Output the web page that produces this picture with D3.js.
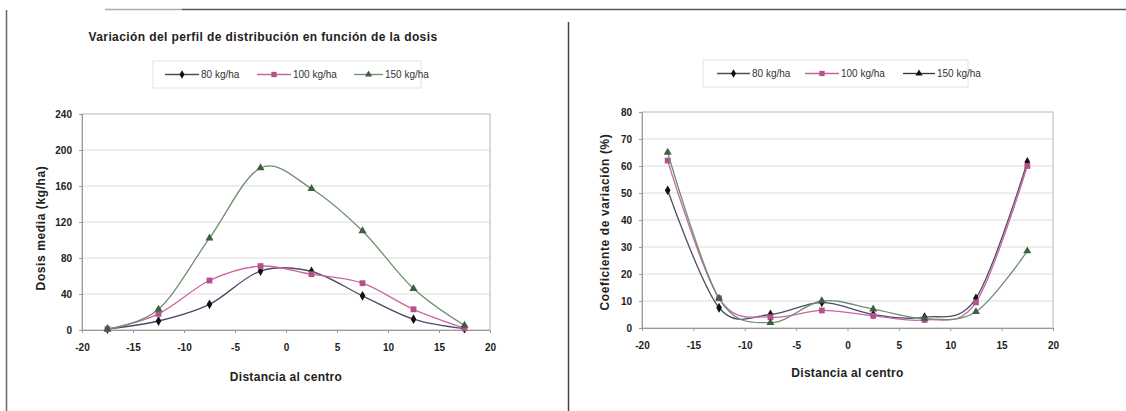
<!DOCTYPE html>
<html>
<head>
<meta charset="utf-8">
<script src="https://cdn.jsdelivr.net/npm/d3@7/dist/d3.min.js"></script>
<style>
  html, body { margin: 0; padding: 0; background: #fff; }
  svg { display: block; font-family: "Liberation Sans", Arial, sans-serif; }
</style>
</head>
<body>
<svg id="fig" width="1126" height="411"></svg>
<script>
// Distance from the centre of the spreader (m)
const distances = [-17.5, -12.5, -7.5, -2.5, 2.5, 7.5, 12.5, 17.5];
const seriesNames = ["80 kg/ha", "100 kg/ha", "150 kg/ha"];

// Mean applied dose (kg/ha) per distance
const dose80  = [1, 10, 28.5, 65.5, 65, 38, 12, 1.5];
const dose100 = [1, 18, 55, 71, 62, 52, 23, 2];
const dose150 = [1, 23, 102, 180, 157, 110, 46, 5];

// Coefficient of variation (%) per distance
const cv80  = [51, 7.5, 5, 9.5, 5, 4, 11, 61.5];
const cv100 = [62, 11, 4, 6.5, 4.5, 3, 9.5, 60];
const cv150 = [65, 11, 2, 10, 7, 3.5, 6, 28.5];

const xTicks = [-20, -15, -10, -5, 0, 5, 10, 15, 20];
const doseTicks = [0, 40, 80, 120, 160, 200, 240];
const cvTicks = [0, 10, 20, 30, 40, 50, 60, 70, 80];

const styles = [
  { line: "#4b4d68", marker: "#111", shape: d3.symbolDiamond, size: 28 },
  { line: "#c866a2", marker: "#b4508c", shape: d3.symbolSquare, size: 34 },
  { line: "#6f8f6f", marker: "#3f5f42", shape: d3.symbolTriangle, size: 28 }
];

const svg = d3.select("#fig");

// Panel frame lines
svg.append("line").attr("x1", 105).attr("x2", 182).attr("y1", 9.5).attr("y2", 9.5)
  .attr("stroke", "#aaa").attr("stroke-width", 1.5);
svg.append("line").attr("x1", 182).attr("x2", 1126).attr("y1", 9.5).attr("y2", 9.5)
  .attr("stroke", "#555").attr("stroke-width", 1.5);
svg.append("line").attr("x1", 6.5).attr("x2", 6.5).attr("y1", 10).attr("y2", 411)
  .attr("stroke", "#666").attr("stroke-width", 1.5);
svg.append("line").attr("x1", 568.5).attr("x2", 568.5).attr("y1", 22).attr("y2", 411)
  .attr("stroke", "#444").attr("stroke-width", 1.5);

function drawChart(cfg) {
  const g = svg.append("g");
  const x = d3.scaleLinear().domain([-20, 20]).range([cfg.left, cfg.right]);
  const y = d3.scaleLinear().domain([0, cfg.yMax]).range([cfg.bottom, cfg.top]);

  // Plot area gridlines
  g.append("g").selectAll("line").data(cfg.yTicks.filter(t => t > 0 && t < cfg.yMax)).join("line")
    .attr("x1", cfg.left).attr("x2", cfg.right)
    .attr("y1", d => y(d)).attr("y2", d => y(d))
    .attr("stroke", "#dcdcdc").attr("stroke-width", 1);

  g.append("rect")
    .attr("x", cfg.left).attr("y", cfg.top)
    .attr("width", cfg.right - cfg.left).attr("height", cfg.bottom - cfg.top)
    .attr("fill", "none").attr("stroke", "#b5b5b5").attr("stroke-width", 1);

  // Axes (plain hyphen minus signs on the tick labels)
  const fmt = d => String(d);
  const xAxis = g.append("g").attr("transform", `translate(0,${cfg.bottom})`)
    .call(d3.axisBottom(x).tickValues(xTicks).tickSize(3).tickPadding(11).tickFormat(fmt));
  const yAxis = g.append("g").attr("transform", `translate(${cfg.left},0)`)
    .call(d3.axisLeft(y).tickValues(cfg.yTicks).tickSize(3).tickPadding(7).tickFormat(fmt));
  [xAxis, yAxis].forEach(a => {
    a.select(".domain").attr("stroke", "#999");
    a.selectAll(".tick line").attr("stroke", "#999");
    a.selectAll(".tick text").attr("fill", "#222").attr("font-size", 10)
      .attr("font-weight", "bold").attr("font-family", "Liberation Sans, Arial, sans-serif");
  });

  // Series curves and markers
  const line = d3.line().x((d, i) => x(distances[i])).y(d => y(d))
    .curve(d3.curveCatmullRom.alpha(0));
  cfg.series.forEach((vals, s) => {
    const st = styles[s];
    g.append("path").datum(vals).attr("d", line)
      .attr("fill", "none").attr("stroke", st.line).attr("stroke-width", 1.3);
    g.append("g").selectAll("path").data(vals).join("path")
      .attr("transform", (d, i) => `translate(${x(distances[i])},${y(d)})`)
      .attr("d", d3.symbol().type(st.shape).size(st.size))
      .attr("fill", st.marker);
  });

  // Axis titles
  g.append("text").attr("x", (cfg.left + cfg.right) / 2).attr("y", cfg.xLabelY)
    .attr("text-anchor", "middle").attr("font-size", 12).attr("font-weight", "bold")
    .attr("letter-spacing", 0.3).attr("fill", "#222").text("Distancia al centro");
  g.append("text")
    .attr("transform", `translate(${cfg.yLabelX},${cfg.yLabelY}) rotate(-90)`)
    .attr("text-anchor", "middle").attr("font-size", 12).attr("font-weight", "bold")
    .attr("letter-spacing", cfg.yLabelSpacing).attr("fill", "#222").text(cfg.yLabel);

  // Legend
  const lg = g.append("g");
  lg.append("rect").attr("x", cfg.legend.x).attr("y", cfg.legend.y)
    .attr("width", cfg.legend.w).attr("height", 27)
    .attr("fill", "#fff").attr("stroke", "#e4e4e4");
  const cy = cfg.legend.y + 13.5;
  cfg.legend.items.forEach((it, s) => {
    const st = styles[s];
    lg.append("line").attr("x1", it.x1).attr("x2", it.x2).attr("y1", cy).attr("y2", cy)
      .attr("stroke", it.color || st.line).attr("stroke-width", 1.3);
    lg.append("path").attr("transform", `translate(${(it.x1 + it.x2) / 2},${cy})`)
      .attr("d", d3.symbol().type(st.shape).size(st.size - 6))
      .attr("fill", it.mcolor || st.marker);
    lg.append("text").attr("x", it.x2 + 2).attr("y", cy + 3.5)
      .attr("font-size", 10).attr("fill", "#333").text(seriesNames[s]);
  });

  if (cfg.title) {
    g.append("text").attr("x", cfg.title.x).attr("y", cfg.title.y)
      .attr("text-anchor", "middle").attr("font-size", 12).attr("font-weight", "bold")
      .attr("letter-spacing", 0.4).attr("fill", "#222").text(cfg.title.text);
  }
}

drawChart({
  left: 82, right: 490, top: 114, bottom: 330, yMax: 240, yTicks: doseTicks,
  series: [dose80, dose100, dose150],
  xLabelY: 381, yLabel: "Dosis media (kg/ha)", yLabelX: 45, yLabelY: 228, yLabelSpacing: 0.6,
  title: { x: 263, y: 41, text: "Variación del perfil de distribución en función de la dosis" },
  legend: { x: 153, y: 61, w: 268, items: [
    { x1: 165, x2: 199 }, { x1: 257, x2: 291 }, { x1: 354, x2: 383 }
  ] }
});

drawChart({
  left: 642, right: 1053, top: 112, bottom: 328, yMax: 80, yTicks: cvTicks,
  series: [cv80, cv100, cv150],
  xLabelY: 377, yLabel: "Coeficiente de variación (%)", yLabelX: 609, yLabelY: 222, yLabelSpacing: 0.6,
  legend: { x: 703, y: 60, w: 265, items: [
    { x1: 717, x2: 750 }, { x1: 805, x2: 839 }, { x1: 903, x2: 935, color: "#333", mcolor: "#111" }
  ] }
});
</script>
</body>
</html>
